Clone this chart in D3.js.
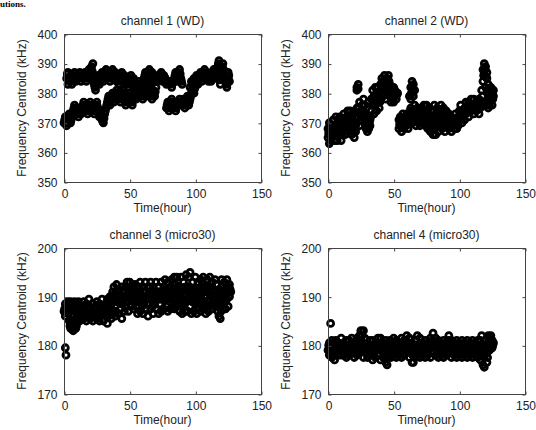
<!DOCTYPE html>
<html><head><meta charset="utf-8">
<script src="https://cdn.jsdelivr.net/npm/d3@7"></script>
<style>
html,body{margin:0;padding:0;background:#fff;}
svg{display:block;}
text{font-family:Arial,"Liberation Sans",sans-serif;fill:#222;}
</style></head>
<body>
<svg id="c" width="536" height="430"></svg>
<script>
// ---- data ----
const xTicks = [0, 50, 100, 150];
const yTicksWD = [350, 360, 370, 380, 390, 400];
const yTicksMicro = [170, 180, 190, 200];
const titles = ["channel 1 (WD)", "channel 2 (WD)", "channel 3 (micro30)", "channel 4 (micro30)"];
const xLabel = "Time(hour)";
const yLabel = "Frequency Centroid (kHz)";

// [time (hour), frequency centroid (kHz)]
const ch1Upper = [[2,385],[3,383],[3,387],[4,384],[5,386],[6,383],[7,385],[8,387],[9,384],[10,386],[11,385],[12,387],[13,384],[14,386],[15,385],[16,387],[17,384],[18,386],[19,388],[20,385],[21,389],[22,390],[22,386],[23,383],[24,381],[25,384],[26,386],[27,383],[28,385],[29,387],[30,384],[31,386],[32,388],[33,385],[34,387],[35,384],[36,386],[37,388],[38,385],[39,387],[40,384],[41,386],[42,383],[43,385],[44,387],[45,384],[46,386],[47,383],[48,385],[49,382],[50,384],[51,386],[52,383],[53,385],[55,382],[57,384],[59,382],[61,385],[62,387],[63,384],[64,386],[65,388],[66,385],[67,387],[68,384],[69,386],[71,384],[72,386],[73,385],[74,387],[75,384],[76,386],[77,385],[78,383],[80,384],[82,382],[84,385],[85,387],[86,384],[87,386],[88,388],[89,385],[90,383],[96,382],[97,384],[98,383],[99,385],[100,384],[101,386],[102,383],[103,385],[104,387],[105,384],[106,386],[107,388],[108,385],[109,387],[110,384],[111,386],[112,384],[113,386],[114,388],[115,385],[116,387],[117,389],[118,391],[118,386],[119,383],[120,388],[121,390],[122,386],[123,384],[124,382],[125,385],[125,387],[126,384],
[2.5,386.5],[3.5,385],[4.5,385],[5.5,384.5],[6.5,384],[7.5,386],[8.5,385.5],[9.5,385],[10.5,385.5],[11.5,386],[12.5,385.5],[13.5,385],[14.5,385.5],[15.5,386],[16.5,385.5],[17.5,385],[18.5,387],[19.5,386.5],[20.5,387],[21.5,387.5],[22.5,384.5],[23.5,382],[24.5,382.5],[25.5,385],[26.5,384.5],[27.5,384],[28.5,386],[29.5,385.5],[30.5,385],[31.5,387],[32.5,386.5],[33.5,386],[34.5,385.5],[35.5,385],[36.5,387],[37.5,386.5],[38.5,386],[39.5,385.5],[40.5,385],[41.5,384.5],[42.5,384],[43.5,386],[44.5,385.5],[45.5,385],[46.5,384.5],[47.5,384],[48.5,383.5],[49.5,383],[50.5,385],[51.5,384.5],[52.5,384],[54,383.5],[56,383],[58,383],[60,383.5],[61.5,386],[62.5,385.5],[63.5,385],[64.5,387],[65.5,386.5],[66.5,386],[67.5,385.5],[68.5,385],[70,385],[71.5,385],[72.5,385.5],[73.5,386],[74.5,385.5],[75.5,385],[76.5,385.5],[77.5,384],[79,383.5],[81,383],[83,383.5],[84.5,386],[85.5,385.5],[86.5,385],[87.5,387],[88.5,386.5],[89.5,384],[97.5,383.5],[98.5,384],[99.5,384.5],[100.5,385],[101.5,384.5],[102.5,384],[103.5,386],[104.5,385.5],[105.5,385],[106.5,387],[107.5,386.5],[108.5,386],[109.5,385.5],[110.5,385],[111.5,385],[112.5,385],[113.5,387],[114.5,386.5],[115.5,386],[116.5,388],[117.5,390],[118.5,384.5],[119.5,385.5],[120.5,389],[121.5,388],[122.5,385],[123.5,383],[124.5,383.5],[125.5,386]];
const ch1Lower = [[0,370],[1,372],[2,369],[3,371],[4,373],[5,370],[6,372],[7,374],[8,376],[9,373],[10,375],[11,372],[12,374],[13,373],[14,375],[15,377],[16,374],[17,376],[18,373],[19,375],[20,377],[21,374],[22,376],[23,373],[24,375],[25,377],[26,374],[27,372],[28,374],[29,371],[30,370],[31,373],[32,375],[33,377],[34,379],[35,376],[36,378],[37,380],[38,377],[39,379],[40,381],[41,378],[42,380],[43,377],[44,379],[45,381],[46,378],[47,376],[48,379],[49,377],[50,380],[51,378],[52,376],[53,379],[54,381],[55,378],[56,380],[57,382],[58,379],[59,381],[60,378],[61,380],[62,382],[63,379],[64,381],[65,383],[66,380],[67,378],[68,381],[69,379],[70,382],[78,375],[79,377],[80,374],[81,376],[82,378],[83,375],[84,377],[85,374],[86,376],[88,378],[90,376],[91,378],[92,375],[93,377],[94,379],[95,376],[96,378],[97,380],[98,382],[99,380],[100,383],
[0.5,371],[1.5,370.5],[2.5,370],[3.5,372],[4.5,371.5],[5.5,371],[6.5,373],[7.5,375],[8.5,374.5],[9.5,374],[10.5,373.5],[11.5,373],[12.5,373.5],[13.5,374],[14.5,376],[15.5,375.5],[16.5,375],[17.5,374.5],[18.5,374],[19.5,376],[20.5,375.5],[21.5,375],[22.5,374.5],[23.5,374],[24.5,376],[25.5,375.5],[26.5,373],[27.5,373],[28.5,372.5],[29.5,370.5],[30.5,371.5],[31.5,374],[32.5,376],[33.5,378],[34.5,377.5],[35.5,377],[36.5,379],[37.5,378.5],[38.5,378],[39.5,380],[40.5,379.5],[41.5,379],[42.5,378.5],[43.5,378],[44.5,380],[45.5,379.5],[46.5,377],[47.5,377.5],[48.5,378],[49.5,378.5],[50.5,379],[51.5,377],[52.5,377.5],[53.5,380],[54.5,379.5],[55.5,379],[56.5,381],[57.5,380.5],[58.5,380],[59.5,379.5],[60.5,379],[61.5,381],[62.5,380.5],[63.5,380],[64.5,382],[65.5,381.5],[66.5,379],[67.5,379.5],[68.5,380],[69.5,380.5],[78.5,376],[79.5,375.5],[80.5,375],[81.5,377],[82.5,376.5],[83.5,376],[84.5,375.5],[85.5,375],[87,377],[89,377],[90.5,377],[91.5,376.5],[92.5,376],[93.5,378],[94.5,377.5],[95.5,377],[96.5,379],[97.5,381],[98.5,381],[99.5,381.5]];
const ch2Points = [[0,365],[0,368],[1,363],[1,366],[1,370],[2,364],[2,367],[3,369],[3,365],[4,371],[4,367],[5,364],[5,369],[6,372],[6,366],[7,368],[7,364],[8,370],[8,366],[9,372],[9,367],[10,369],[10,364],[11,371],[11,366],
[12,368],[12,373],[13,370],[13,366],[14,372],[14,368],[15,374],[15,370],[16,367],[16,372],[17,369],[17,374],[18,366],[18,371],[19,373],[19,368],[20,365],[20,370],[21,372],[21,367],
[22,382],[23,383],[22,381],[23,381.5],
[22,375],[23,372],[24,377],[24,369],[25,374],[25,371],[26,376],[26,372],[27,378],[27,374],[28,370],[28,376],
[29,368],[29,371],[30,367],[30,370],[31,372],[31,368],[32,369],[32,371],
[33,374],[33,378],[34,381],[34,376],[35,373],[35,379],[36,382],[36,376],[37,374],[37,380],[38,377],[38,382],[39,375],[39,379],
[40,378],[40,383],[41,381],[41,385],[42,379],[42,384],[43,386],[43,381],[44,383],[44,378],[45,385],[45,380],[46,382],[46,386],[47,379],[47,383],[48,381],[48,377],
[49,380],[49,378],[50,382],[50,377],[51,379],[51,381],[52,378],[53,380],
[54,368],[54,371],[55,369],[55,372],[56,367],[56,370],[57,373],[57,369],[58,371],[58,368],[59,372],[59,369],[60,370],[60,373],[61,368],[61,371],
[62,379],[63,382],[63,378],[64,384],[64,380],[65,383],[65,379],[66,381],
[62,372],[63,375],[64,370],[65,374],[66,371],[66,376],[67,369],[67,373],[68,375],[68,371],[69,370],[69,374],[70,372],[70,369],[71,375],[71,371],[72,373],[72,370],[73,376],[73,372],[74,369],[74,374],
[75,371],[75,376],[76,373],[76,368],[77,375],[77,370],[78,367],[78,372],[79,374],[79,369],[80,366],[80,371],[81,376],[81,368],[82,373],[82,366],[83,370],[83,375],[84,367],[84,372],
[85,374],[85,369],[86,376],[86,371],[87,373],[87,368],[88,375],[88,370],[89,372],[89,367],[90,374],[90,369],[91,371],[92,373],[92,368],
[93,370],[94,372],[94,367],[95,369],[96,371],[96,368],[97,373],[97,370],[98,368],[99,372],[99,369],[100,371],
[100,374],[101,372],[101,376],[102,370],[102,374],[103,372],[104,375],[104,371],[105,377],[105,373],[106,375],[107,372],[107,377],[108,374],
[108,376],[109,378],[109,374],[110,376],[111,378],[111,373],[112,375],[113,377],[113,374],[114,376],[115,378],[115,373],[116,375],[117,377],
[117,381],[118,384],[118,388],[119,386],[119,390],[120,382],[120,389],[121,385],[121,387],[122,383],
[121,376],[122,378],[122,375],[123,380],[123,376],[124,382],[124,378],[125,380],[125,376],[126,379],[126,381],
[0.5,366.5],[1.5,368],[2.5,365.5],[3.5,367],[4.5,369],[5.5,366.5],[6.5,369],[7.5,366],[8.5,368],[9.5,369.5],[10.5,366.5],[11.5,368.5],[12.5,370.5],[13.5,368],[14.5,370],[15.5,372],[16.5,369.5],[17.5,371.5],[18.5,368.5],[19.5,370.5],[20.5,367.5],[21.5,369.5],[22.5,373.5],[23.5,375],[24.5,373],[25.5,372.5],[26.5,374],[27.5,376],[28.5,373],[29.5,369.5],[30.5,368.5],[31.5,370],[32.5,372],[33.5,376],[34.5,378.5],[35.5,376],[36.5,379],[37.5,377],[38.5,379.5],[39.5,377],[40.5,380.5],[41.5,383],[42.5,381.5],[43.5,383.5],[44.5,380.5],[45.5,382.5],[46.5,384],[47.5,381],[48.5,379],[49.5,379],[50.5,379.5],[51.5,380],[52.5,379.5],[54.5,369.5],[55.5,370.5],[56.5,368.5],[57.5,371],[58.5,369.5],[59.5,370.5],[60.5,371.5],[61.5,369.5],[62.5,374],[63.5,380],[64.5,382],[65.5,381],[63.5,372.5],[64.5,372],[65.5,372.5],[66.5,373.5],[67.5,371],[68.5,373],[69.5,372],[70.5,373.5],[71.5,373],[72.5,371.5],[73.5,374],[74.5,371.5],[75.5,373.5],[76.5,370.5],[77.5,372.5],[78.5,369.5],[79.5,371.5],[80.5,368.5],[81.5,372],[82.5,369.5],[83.5,372.5],[84.5,369.5],[85.5,371.5],[86.5,373.5],[87.5,370.5],[88.5,372.5],[89.5,369.5],[90.5,371.5],[91.5,370],[92.5,370.5],[93.5,369],[94.5,369.5],[95.5,370],[96.5,369.5],[97.5,371.5],[98.5,370],[99.5,370.5],[100.5,372.5],[101.5,374],[102.5,372],[103.5,373.5],[104.5,373],[105.5,375],[106.5,373.5],[107.5,374.5],[108.5,375],[109.5,376],[110.5,375],[111.5,375.5],[112.5,376],[113.5,375.5],[114.5,377],[115.5,375.5],[116.5,376],[117.5,379],[118.5,386],[119.5,388],[120.5,385.5],[121.5,381],[122.5,377],[123.5,378],[124.5,380],[125.5,378]];
const ch3Points = [[1,179.5],[1.5,178],
[0,187],[1,188.5],[1,186],[2,187.5],[3,189],[3,186.5],[4,188],[5,187],[5,189],
[4,185],[5,183.5],[6,184.5],[6,186],[7,183],[7,185],[8,184],[9,185.5],[9,183.5],[10,185],
[7,187.5],[8,189],[9,187],[10,188.5],[11,186.5],[11,189],[12,187.5],
[12,185],[13,186.5],[14,188],[15,189],[15,185.5],[16,187],[17,188.5],[17,185],[18,186.5],[19,188],[19,189.5],[20,185.5],[21,187],[22,188.5],[22,185],[23,186.5],[24,188],[25,189],[25,185.5],[26,187],[27,188.5],[27,185],[28,186.5],[29,188],[29,189.5],[30,185],[31,186.5],[32,188],[33,189.5],[33,184.5],[34,186],[35,187.5],
[35,190],[36,185.5],[36,188.5],[37,191],[37,187],[38,189.5],[38,192],[39,186],[39,188],[40,190.5],[40,192.5],[41,186.5],[41,189],[42,191.5],[43,187.5],[43,190],[44,192],[44,185.5],[45,188.5],
[45,191],[46,187],[46,189.5],[47,192],[47,188],[48,190.5],[48,193],[49,187],[49,189],[50,191.5],[50,193],[51,188],[51,190],[52,192],[53,187.5],[53,190.5],
[54,192.5],[55,188],[55,190.5],[56,186.5],[56,192],[57,189],[57,191],[58,193],[58,187],[59,189.5],[60,192],[60,186.5],[61,188.5],[61,191],[62,193],[62,187.5],[63,190],[64,192],[64,186],[65,188.5],[65,191],[66,193],[66,187.5],[67,189.5],[68,192],[68,186.5],[69,188.5],[69,191],[70,193],
[70,187.5],[71,189.5],[72,192],[72,186.5],[73,188.5],[73,191],[74,193],[74,187],[75,189.5],[76,192],[76,187.5],[77,190],[77,193.5],[78,188],[78,191],[79,193],[79,187],[80,189.5],[81,192],[81,187.5],[82,190],[82,193.5],[83,188],[83,191],[84,194],[84,187.5],[85,190],[85,192.5],[86,194],
[86,188],[87,190.5],[88,187],[88,192],[89,189],[89,194],[90,186.5],[90,191],[91,188.5],[91,193],[92,187],[92,190.5],[93,194.5],[93,189],[94,187],[94,192],[95,190],[95,194],[96,195],[96,188],[97,191.5],[97,186.5],[98,193],[98,189],[99,187],[99,191.5],[100,194],[100,188.5],[101,190.5],[101,186.5],[102,193],[102,189],[103,191],
[104,187],[104,193.5],[105,189.5],[105,191.5],[106,187.5],[106,194],[107,190],[107,192],[108,188],[108,186.5],[109,191],[109,193.5],[110,189],[110,187],[111,192],[111,194],[112,188.5],[112,190.5],[113,193],[113,187.5],[114,189.5],[114,191.5],[115,193.5],[115,188],[116,190],[116,192.5],[117,187],[117,189],[118,191.5],[118,186],[119,185.5],[119,188.5],[120,190.5],[120,193.5],[121,187.5],[121,191],[122,189],[122,193],[123,187.5],[123,191.5],[124,189.5],[124,193.5],[125,188],[125,192],[126,190],[126,192.5],[127,191],
[0.5,187.5],[1.5,187],[2.5,188],[3.5,187.5],[4.5,188.5],[4.5,184],[5.5,185],[6.5,183.5],[7.5,184.5],[8.5,185],[9.5,184],[7.5,186],[8.5,188],[9.5,188],[10.5,187.5],[11.5,188],[12.5,186],[13.5,187.5],[14.5,186.5],[15.5,187.5],[16.5,186],[17.5,187],[18.5,187.5],[19.5,186.5],[20.5,186.5],[21.5,186],[22.5,187],[23.5,187.5],[24.5,186.5],[25.5,186.5],[26.5,186],[27.5,187],[28.5,187.5],[29.5,186.5],[30.5,187.5],[31.5,187],[32.5,186],[33.5,187],[34.5,189],[35.5,188],[36.5,190],[37.5,189],[38.5,190.5],[39.5,187],[40.5,189],[41.5,191],[42.5,189],[43.5,188.5],[44.5,190],[45.5,189.5],[46.5,191],[47.5,190],[48.5,191.5],[49.5,190.5],[50.5,189.5],[51.5,191.5],[52.5,189.5],[53.5,192],[54.5,190],[55.5,189],[56.5,189.5],[57.5,192],[58.5,190.5],[59.5,188],[60.5,189.5],[61.5,189.5],[62.5,191],[63.5,188.5],[64.5,189.5],[65.5,192],[66.5,190.5],[67.5,188],[68.5,190],[69.5,189.5],[70.5,191],[71.5,191],[72.5,189.5],[73.5,189.5],[74.5,190.5],[75.5,191],[76.5,190],[77.5,191.5],[78.5,189.5],[79.5,190.5],[80.5,191],[81.5,189.5],[82.5,191.5],[83.5,192.5],[84.5,189.5],[85.5,188.5],[86.5,192],[87.5,189],[88.5,190],[89.5,191.5],[90.5,189],[91.5,190.5],[92.5,192],[93.5,191.5],[94.5,189.5],[95.5,192],[96.5,190.5],[97.5,189],[98.5,191],[99.5,189.5],[100.5,191.5],[101.5,188.5],[102.5,191],[103.5,189],[104.5,190.5],[105.5,193],[106.5,189],[107.5,188.5],[108.5,190],[109.5,192],[110.5,191],[111.5,190.5],[112.5,192],[113.5,189.5],[114.5,190],[115.5,191],[116.5,188.5],[117.5,190.5],[118.5,188.5],[119.5,187],[120.5,192],[121.5,189],[122.5,191],[123.5,189.5],[124.5,191.5],[125.5,190],[126.5,191.5]];
const ch4Points = [[2,184.5],
[0,179],[1,180.5],[1,178],[2,179.5],[3,177.5],[3,181],[4,179],[5,180],[5,177],[6,178.5],[6,181],[7,179.5],[8,178],[8,180.5],[9,179],[10,181.5],[10,178],
[11,179.5],[12,178],[12,180.5],[13,179],[14,181],[14,177.5],[15,179.5],[16,181],[16,178],[17,180],[18,178.5],[18,181.5],[19,179],[20,180.5],[20,177.5],[21,179.5],[22,181.5],[22,178],[23,180],[24,182],[24,178.5],[25,183],[25,180.5],[26,179],[26,182],[27,183],[27,177.5],[28,180],[28,181.5],[29,178.5],[30,180],[30,177.5],[31,179.5],[32,181],[32,178],[33,179.5],[34,181],[34,177],[35,178.5],[36,180.5],[36,177.5],[37,179],[38,181.5],[38,178],[39,180],[40,181.5],[40,177],[41,179],[42,180.5],[42,177.5],[43,179],[44,181],[44,176.5],[45,178],[45,176],[46,180],[46,177.5],[47,181],[47,179],[48,177.5],[49,180],[50,181.5],[50,178],[51,179.5],[52,181],[52,177.5],[53,179],[54,180.5],[54,178],[55,179.5],[56,181.5],[56,177.5],[57,179],[58,181],[58,178],[59,180],[60,182],[60,178.5],[61,180],[62,181.5],[62,177.5],[63,179],[64,180.5],[64,176.5],[65,178],[65,176.5],[66,180],[66,177.5],[67,181],[67,179],[68,182],[68,178],[69,180],[70,181.5],[70,177.5],[71,179],[72,180.5],[72,178],[73,179.5],[74,181],[74,177.5],[75,179],[76,180.5],[76,178],[77,179.5],[78,181.5],[78,177.5],[79,180],[80,182.5],[80,178.5],[81,180],[82,181.5],[82,178],[83,179.5],[84,181],[84,177.5],[85,179],[86,180.5],[86,178],[87,179.5],[88,181],[88,177.5],[89,179],[90,180.5],[90,178],[91,179.5],[92,182],[92,178.5],[93,180],[94,181],[94,177.5],[95,179],[96,180.5],[96,178],[97,179.5],[98,181],[98,177.5],[99,179],[100,180.5],[100,178],[101,179.5],[102,181],[102,177.5],[103,179],[104,180.5],[104,178],[105,179.5],[106,181],[106,177.5],[107,179],[108,180.5],[108,178],[109,179.5],[110,181],[110,177.5],[111,179],[112,180.5],[112,178],[113,179.5],[114,181],[114,177.5],[115,179],[116,181],[116,177],[117,182],[117,178.5],[118,176],[118,180],[119,175.5],[119,177.5],[120,179],[120,181],[121,176.5],[121,178.5],[122,180],[122,182],[123,179],[123,181.5],[124,180],[124,182],[125,179.5],[125,181],[126,180.5],
[0.5,180],[1.5,179],[2.5,178.5],[3.5,179.5],[4.5,178],[5.5,179],[6.5,179.5],[7.5,179],[8.5,179.5],[9.5,180],[10.5,179.5],[11.5,179],[12.5,179.5],[13.5,180],[14.5,179],[15.5,180],[16.5,179.5],[17.5,179],[18.5,180],[19.5,179.5],[20.5,179],[21.5,180.5],[22.5,179.5],[23.5,181],[24.5,180.5],[25.5,182],[26.5,180.5],[27.5,180],[28.5,179.5],[29.5,179.5],[30.5,179],[31.5,180],[32.5,179.5],[33.5,180],[34.5,179],[35.5,179.5],[36.5,179],[37.5,180],[38.5,179.5],[39.5,179],[40.5,179],[41.5,180],[42.5,179],[43.5,180],[44.5,178.5],[45.5,177.5],[46.5,179],[47.5,180],[48.5,179],[49.5,179],[50.5,180],[51.5,180.5],[52.5,179],[53.5,180],[54.5,179.5],[55.5,180.5],[56.5,179],[57.5,180],[58.5,179.5],[59.5,180.5],[60.5,180.5],[61.5,180],[62.5,179.5],[63.5,180],[64.5,178],[65.5,178.5],[66.5,179],[67.5,180],[68.5,180],[69.5,179],[70.5,179.5],[71.5,180],[72.5,179],[73.5,180],[74.5,179.5],[75.5,180],[76.5,179],[77.5,180.5],[78.5,179.5],[79.5,181],[80.5,180.5],[81.5,180.5],[82.5,179.5],[83.5,180],[84.5,179.5],[85.5,180],[86.5,179],[87.5,180],[88.5,179.5],[89.5,180],[90.5,179],[91.5,181],[92.5,180.5],[93.5,180.5],[94.5,179.5],[95.5,180],[96.5,179],[97.5,180],[98.5,179.5],[99.5,180],[100.5,179],[101.5,180],[102.5,179.5],[103.5,180],[104.5,179],[105.5,180],[106.5,179.5],[107.5,180],[108.5,179],[109.5,180],[110.5,179.5],[111.5,180],[112.5,179],[113.5,180],[114.5,179.5],[115.5,180],[116.5,179],[117.5,180],[118.5,178],[119.5,178.5],[120.5,180],[121.5,177.5],[122.5,181],[123.5,180.5],[124.5,181],[125.5,180]];

// ---- layout ----
const svg = d3.select("#c");
svg.append("text").attr("x", 0).attr("y", 7)
  .style("font-family", "'Liberation Serif','Times New Roman',serif")
  .style("font-size", "9px").style("font-weight", "bold").style("fill", "#000")
  .text("utions.");

const panels = [
  {x0: 64, x1: 261, y0: 34, y1: 182, dom: [350, 400], ticks: yTicksWD, pts: ch1Upper.concat(ch1Lower), title: titles[0]},
  {x0: 328, x1: 525, y0: 34, y1: 182, dom: [350, 400], ticks: yTicksWD, pts: ch2Points, title: titles[1]},
  {x0: 64, x1: 261, y0: 248, y1: 394, dom: [170, 200], ticks: yTicksMicro, pts: ch3Points, title: titles[2]},
  {x0: 328, x1: 525, y0: 248, y1: 394, dom: [170, 200], ticks: yTicksMicro, pts: ch4Points, title: titles[3]}
];
const axisColor = "#444";

panels.forEach(p => {
  const x = d3.scaleLinear().domain([0, 150]).range([p.x0, p.x1]);
  const y = d3.scaleLinear().domain(p.dom).range([p.y1, p.y0]);
  const g = svg.append("g");

  // markers
  g.append("g").selectAll("circle").data(p.pts).join("circle")
    .attr("cx", d => x(d[0])).attr("cy", d => y(d[1])).attr("r", 3.0)
    .attr("fill", "none").attr("stroke", "#000").attr("stroke-width", 2.8);

  // box
  g.append("rect").attr("x", p.x0 + 0.5).attr("y", p.y0 + 0.5)
    .attr("width", p.x1 - p.x0).attr("height", p.y1 - p.y0)
    .attr("fill", "none").attr("stroke", axisColor).attr("stroke-width", 1);

  // axes with inward ticks
  const xb = g.append("g").attr("transform", `translate(0.5,${p.y1 + 0.5})`)
    .call(d3.axisBottom(x).tickValues(xTicks).tickSize(-3).tickPadding(7).tickFormat(d3.format("d")));
  const xt = g.append("g").attr("transform", `translate(0.5,${p.y0 + 0.5})`)
    .call(d3.axisTop(x).tickValues(xTicks).tickSize(-3).tickFormat(""));
  const yl = g.append("g").attr("transform", `translate(${p.x0 + 0.5},0.5)`)
    .call(d3.axisLeft(y).tickValues(p.ticks).tickSize(-3).tickPadding(7).tickFormat(d3.format("d")));
  const yr = g.append("g").attr("transform", `translate(${p.x1 + 0.5},0.5)`)
    .call(d3.axisRight(y).tickValues(p.ticks).tickSize(-3).tickFormat(""));
  [xb, xt, yl, yr].forEach(a => {
    a.select(".domain").remove();
    a.selectAll("line").attr("stroke", axisColor);
    a.selectAll("text").style("font-size", "12px").style("fill", "#222")
      .style("font-family", "Arial,'Liberation Sans',sans-serif");
  });

  const cx = (p.x0 + p.x1) / 2;
  g.append("text").attr("x", cx).attr("y", p.y0 - 9).attr("text-anchor", "middle")
    .style("font-size", "12px").text(p.title);
  g.append("text").attr("x", cx).attr("y", p.y1 + 30).attr("text-anchor", "middle")
    .style("font-size", "12px").text(xLabel);
  g.append("text").attr("transform", `translate(${p.x0 - 38},${(p.y0 + p.y1) / 2}) rotate(-90)`)
    .attr("text-anchor", "middle").style("font-size", "12px").text(yLabel);
});
</script>
</body></html>
